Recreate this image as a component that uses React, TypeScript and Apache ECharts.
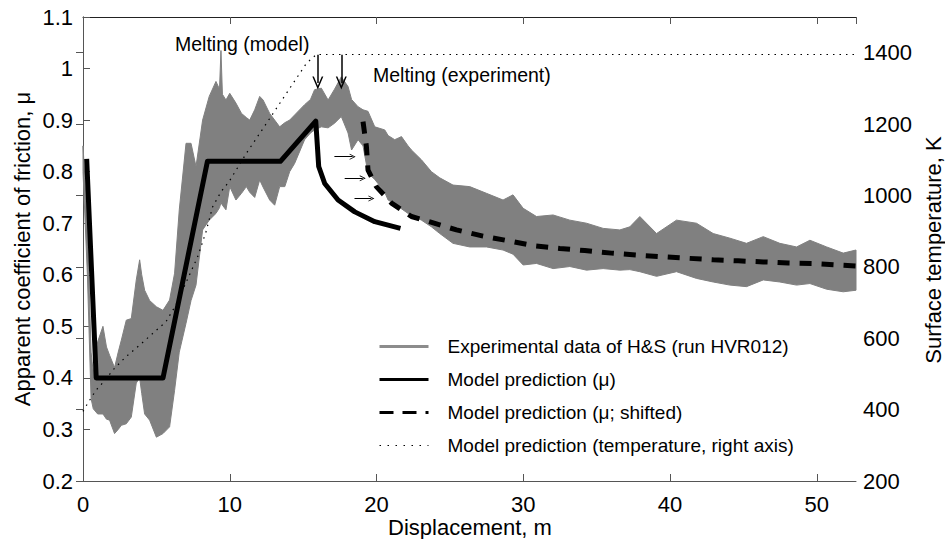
import React, { useEffect, useRef } from "react";
import * as echarts from "echarts";

// Experimental data (H&S run HVR012): envelope of the oscillating signal
const expX = [0, 0.3, 0.55, 0.7, 1.0, 1.36, 1.6, 1.81, 2.15, 2.4, 2.61, 2.95, 3.29, 3.63, 3.86, 4.0, 4.2, 4.54, 5.0, 5.45, 5.9, 6.24, 6.56, 7.02, 7.36, 7.7, 8.15, 8.6, 9.06, 9.3, 9.4, 9.5, 9.74, 10.0, 10.42, 10.8, 11.13, 11.36, 11.7, 12.04, 12.27, 12.72, 13.06, 13.4, 13.75, 14.08, 14.42, 15.1, 15.5, 15.78, 16.24, 16.7, 17.14, 17.6, 18.06, 18.3, 18.74, 19.08, 19.42, 19.88, 20.1, 20.56, 20.79, 21.24, 21.47, 21.7, 22.15, 22.38, 23.06, 23.74, 24.31, 25.21, 26.35, 27.49, 28.62, 29.3, 29.99, 30.9, 32.03, 33.17, 34.31, 35.44, 36.58, 37.26, 37.94, 39.08, 40.44, 41.8, 42.94, 44.08, 45.21, 46.35, 47.48, 48.62, 49.53, 50.67, 51.8, 52.67];
const expLo = [0.8, 0.6, 0.36, 0.34, 0.33, 0.33, 0.32, 0.318, 0.292, 0.3, 0.308, 0.311, 0.324, 0.39, 0.4, 0.37, 0.33, 0.318, 0.285, 0.292, 0.305, 0.376, 0.45, 0.506, 0.55, 0.58, 0.687, 0.706, 0.719, 0.73, 0.74, 0.735, 0.726, 0.771, 0.745, 0.758, 0.771, 0.76, 0.75, 0.784, 0.77, 0.745, 0.735, 0.771, 0.771, 0.8, 0.816, 0.862, 0.875, 0.881, 0.887, 0.885, 0.894, 0.907, 0.875, 0.842, 0.862, 0.85, 0.797, 0.785, 0.777, 0.76, 0.745, 0.738, 0.732, 0.728, 0.719, 0.715, 0.706, 0.693, 0.68, 0.661, 0.654, 0.654, 0.648, 0.64, 0.619, 0.622, 0.612, 0.616, 0.609, 0.612, 0.609, 0.61, 0.606, 0.597, 0.606, 0.593, 0.586, 0.58, 0.577, 0.59, 0.586, 0.58, 0.583, 0.572, 0.567, 0.57];
const expHi = [0.85, 0.7, 0.45, 0.41, 0.47, 0.5, 0.46, 0.444, 0.42, 0.45, 0.473, 0.512, 0.515, 0.59, 0.629, 0.6, 0.57, 0.55, 0.538, 0.531, 0.551, 0.603, 0.726, 0.855, 0.855, 0.81, 0.9, 0.946, 0.975, 0.96, 1.035, 0.95, 0.939, 0.952, 0.933, 0.913, 0.905, 0.9, 0.92, 0.946, 0.939, 0.913, 0.9, 0.887, 0.895, 0.9, 0.91, 0.93, 0.94, 0.959, 0.962, 0.939, 0.96, 0.984, 0.965, 0.94, 0.926, 0.92, 0.917, 0.887, 0.885, 0.881, 0.87, 0.862, 0.865, 0.868, 0.85, 0.842, 0.823, 0.8, 0.788, 0.774, 0.771, 0.758, 0.745, 0.755, 0.729, 0.713, 0.716, 0.706, 0.7, 0.69, 0.687, 0.693, 0.713, 0.68, 0.706, 0.7, 0.68, 0.671, 0.661, 0.674, 0.661, 0.654, 0.667, 0.654, 0.642, 0.648];

// Model prediction (mu)
const muX = [0.25, 0.9, 5.45, 8.48, 13.45, 15.86, 16.06, 16.47, 17.38, 18.52, 19.88, 21.63];
const muY = [0.825, 0.4, 0.4, 0.82, 0.82, 0.898, 0.81, 0.777, 0.745, 0.722, 0.703, 0.69];

// Model prediction (mu; shifted)
const shiftX = [19.08, 19.31, 19.42, 19.99, 21.02, 22.38, 23.7, 25.45, 27.26, 28.96, 30.78, 32.49, 34.19, 36.01, 37.8, 39.53, 41.23, 42.94, 44.64, 46.35, 48.05, 49.65, 51.35, 52.67];
const shiftY = [0.897, 0.849, 0.803, 0.771, 0.739, 0.713, 0.702, 0.687, 0.675, 0.666, 0.656, 0.651, 0.647, 0.642, 0.638, 0.635, 0.632, 0.629, 0.627, 0.625, 0.623, 0.622, 0.619, 0.617];

// Model prediction (temperature, right axis), K
const tempX = [0, 0.31, 0.88, 1.34, 2.13, 2.92, 3.84, 4.74, 5.65, 6.33, 7.25, 7.81, 8.38, 8.83, 9.4, 9.97, 11.13, 12.5, 13.86, 15.22, 15.9, 52.67];
const tempK = [395, 417, 454, 475, 515, 548, 580, 613, 646, 693, 777, 828, 898, 968, 1010, 1040, 1118, 1202, 1286, 1370, 1395, 1395];

// Axes
const xMin = 0;
const xMax = 52.67;
const xStep = 10;
const muMin = 0.2;
const muMax = 1.1;
const muStep = 0.1;
const tMin = 200;
const tMax = 1500;
const tStep = 200;

// Annotation arrows: [x0, y0, x1, y1] in data units (left axis)
const meltArrows = [
  [16.0, 1.027, 16.0, 0.972],
  [17.6, 1.027, 17.6, 0.972],
];
const shiftArrows = [
  [17.13, 0.829, 18.37, 0.829],
  [17.83, 0.787, 19.06, 0.787],
  [18.5, 0.748, 19.65, 0.748],
];

const names = {
  exp: "Experimental data of H&S (run HVR012)",
  mu: "Model prediction (μ)",
  shift: "Model prediction (μ; shifted)",
  temp: "Model prediction (temperature, right axis)",
};

const FONT = "'Liberation Sans', Arial, Helvetica, sans-serif";
const chevron = "path://M0,10 L5,0 L10,10 L8.6,10 L5,2.8 L1.4,10 Z";
const GRAY = "#808080";

export default function App() {
  const ref = useRef<HTMLDivElement>(null);
  useEffect(() => {
    const chart = echarts.init(ref.current!, null, { renderer: "svg" });
    const axisCol = "#555";
    const xAxisBase = {
      type: "value",
      min: xMin,
      max: xMax,
      interval: xStep,
      splitLine: { show: false },
      axisTick: { inside: true, length: 7, lineStyle: { color: axisCol } },
    };
    const hideSym = { opacity: 0 };
    const option: any = {
      animation: false,
      backgroundColor: "#fff",
      textStyle: { fontFamily: FONT },
      grid: { left: 83, right: 89, top: 17, bottom: 58, containLabel: false },
      xAxis: [
        {
          ...xAxisBase,
          position: "bottom",
          axisLine: { lineStyle: { color: axisCol, width: 1 } },
          axisLabel: { fontSize: 22, color: "#000", margin: 12, fontFamily: FONT, showMaxLabel: false },
        },
        {
          ...xAxisBase,
          position: "top",
          axisLine: { lineStyle: { color: "#222", width: 1 } },
          axisLabel: { show: false },
        },
      ],
      yAxis: [
        {
          type: "value",
          min: muMin,
          max: muMax,
          interval: muStep,
          position: "left",
          splitLine: { show: false },
          axisLine: { show: true, lineStyle: { color: axisCol } },
          axisTick: { inside: true, length: 7, lineStyle: { color: axisCol } },
          axisLabel: { fontSize: 22, color: "#000", margin: 10, fontFamily: FONT },
        },
        {
          type: "value",
          min: tMin,
          max: tMax,
          interval: tStep,
          position: "right",
          splitLine: { show: false },
          axisLine: { show: true, lineStyle: { color: axisCol } },
          axisTick: { inside: true, length: 7, lineStyle: { color: axisCol } },
          axisLabel: {
            fontSize: 22,
            color: "#000",
            margin: 7,
            fontFamily: FONT,
            showMaxLabel: false,
            formatter: (v: number) => String(v),
          },
        },
      ],
      legend: {
        orient: "vertical",
        left: 373,
        top: 332,
        itemWidth: 49,
        itemHeight: 14,
        itemGap: 14,
        selectedMode: false,
        textStyle: { fontSize: 19, color: "#000", fontFamily: FONT, lineHeight: 14, padding: [0, 0, 0, 14] },
        data: [
          { name: names.exp, itemStyle: hideSym, lineStyle: { width: 3, color: "#8c8c8c" } },
          { name: names.mu, itemStyle: hideSym, lineStyle: { width: 3, color: "#000" } },
          { name: names.shift, itemStyle: hideSym, lineStyle: { width: 3, color: "#000", type: [14, 9] } },
          { name: names.temp, itemStyle: hideSym, lineStyle: { width: 1.2, color: "#000", type: [1.5, 6.5] } },
        ],
      },
      series: [
        {
          name: "expBand",
          type: "custom",
          data: expX.map((x, i) => [x, expLo[i], expHi[i]]),
          encode: { x: 0, y: [1, 2] },
          z: 1,
          silent: true,
          renderItem: (params: any, api: any) => {
            if (params.dataIndex !== 0) return null;
            const pts: number[][] = [];
            for (let i = 0; i < expX.length; i++) pts.push(api.coord([expX[i], expHi[i]]));
            for (let i = expX.length - 1; i >= 0; i--) pts.push(api.coord([expX[i], expLo[i]]));
            return {
              type: "polygon",
              shape: { points: pts },
              style: { fill: GRAY, stroke: GRAY, lineWidth: 1 },
            };
          },
        },
        {
          name: names.exp,
          type: "line",
          symbol: "none",
          data: [],
          itemStyle: { color: "#8c8c8c" },
          lineStyle: { color: "#8c8c8c", width: 3 },
        },
        {
          name: names.temp,
          type: "line",
          symbol: "none",
          yAxisIndex: 1,
          data: tempX.map((x, i) => [x, tempK[i]]),
          itemStyle: { color: "#000" },
          lineStyle: { color: "#000", width: 1.2, type: [1.5, 5] },
          z: 3,
        },
        {
          name: names.mu,
          type: "line",
          symbol: "none",
          data: muX.map((x, i) => [x, muY[i]]),
          itemStyle: { color: "#000" },
          lineStyle: { color: "#000", width: 5, join: "round", cap: "butt" },
          z: 4,
          markLine: {
            silent: true,
            animation: false,
            label: { show: false },
            symbol: ["none", chevron],
            data: [
              ...meltArrows.map((a) => [
                { coord: [a[0], a[1]], symbol: "none", lineStyle: { color: "#000", width: 1.5, type: "solid" } },
                { coord: [a[2], a[3]], symbol: chevron, symbolSize: [11, 13] },
              ]),
              ...shiftArrows.map((a) => [
                { coord: [a[0], a[1]], symbol: "none", lineStyle: { color: "#000", width: 1, type: "solid" } },
                { coord: [a[2], a[3]], symbol: chevron, symbolSize: [6, 6] },
              ]),
            ],
          },
        },
        {
          name: names.shift,
          type: "line",
          symbol: "none",
          data: shiftX.map((x, i) => [x, shiftY[i]]),
          itemStyle: { color: "#000" },
          lineStyle: { color: "#000", width: 5, type: [12, 10] },
          z: 5,
        },
      ],
      graphic: [
        {
          type: "text",
          x: 22,
          y: 249,
          z: 100,
          rotation: Math.PI / 2,
          style: { text: "Apparent coefficient of friction, μ", font: `22px ${FONT}`, fill: "#000", align: "center", verticalAlign: "middle" },
        },
        {
          type: "text",
          x: 470,
          y: 527,
          z: 100,
          style: { text: "Displacement, m", font: `22px ${FONT}`, fill: "#000", align: "center", verticalAlign: "middle" },
        },
        {
          type: "text",
          x: 933,
          y: 250,
          z: 100,
          rotation: Math.PI / 2,
          style: { text: "Surface temperature, K", font: `22px ${FONT}`, fill: "#000", align: "center", verticalAlign: "middle" },
        },
        {
          type: "text",
          x: 175,
          y: 44,
          z: 100,
          style: { text: "Melting (model)", font: `19.5px ${FONT}`, fill: "#000", align: "left", verticalAlign: "middle" },
        },
        {
          type: "text",
          x: 373,
          y: 75,
          z: 100,
          style: { text: "Melting (experiment)", font: `19.5px ${FONT}`, fill: "#000", align: "left", verticalAlign: "middle" },
        },
      ],
    };
    chart.setOption(option);
    return () => chart.dispose();
  }, []);
  return (
    <div
      ref={ref}
      style={{ position: "absolute", left: 0, top: 0, width: 945, height: 539, background: "#fff" }}
    />
  );
}
